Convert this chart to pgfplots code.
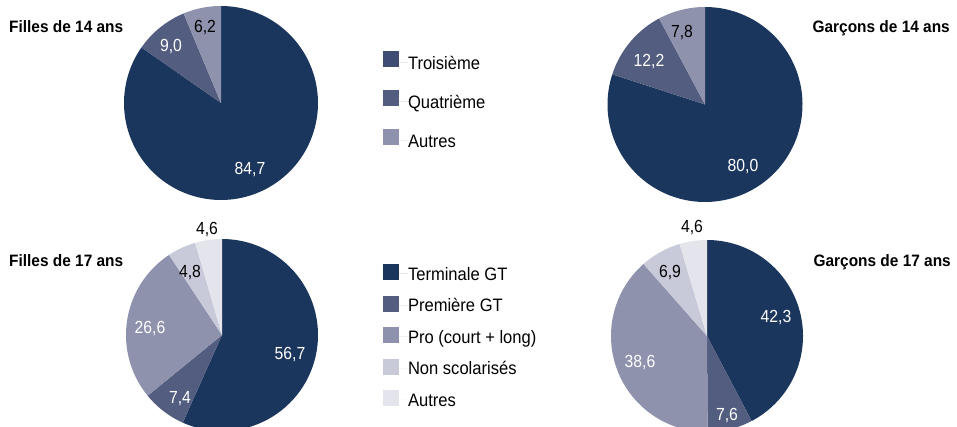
\documentclass[border=0pt]{standalone}
\usepackage{fontspec}
\setmainfont{Liberation Sans}
\newfontfamily\labfont{Liberation Sans}[FakeStretch=0.9]
\newfontfamily\legfont{Liberation Sans}[FakeStretch=0.92]
\newfontfamily\ttlfont{Liberation Sans}[FakeStretch=0.935]
\usepackage{pgfplots}
\pgfplotsset{compat=1.18}
\definecolor{c1}{HTML}{1B365D}
\definecolor{c2}{HTML}{535D80}
\definecolor{c3}{HTML}{8E92AD}
\definecolor{c4}{HTML}{C9CAD9}
\definecolor{c5}{HTML}{E4E5EC}
\definecolor{leg1}{HTML}{3F4C74}
% slice: cx, cy, r, start (%), value (%), colour
\newcommand{\slice}[6]{%
  \addplot[fill=#6, draw=none, forget plot, domain=#4*3.6:(#4+#5)*3.6, samples=120]
    ({#1+#3*sin(x)},{#2-#3*cos(x)}) -- (axis cs:#1,#2) -- cycle;}
\newcommand{\lab}[4]{\node[anchor=base, inner sep=0pt, text=#3, font=\labfont\fontsize{17.5}{20}\selectfont] at (axis cs:#1,#2) {#4};}
\pgfplotsset{pieaxis/.style={x=1pt, y=1pt, y dir=reverse, xmin=0, xmax=957, ymin=0, ymax=427,
  hide axis, scale only axis, clip=true, at={(0,0)}, anchor=south west,
  legend cell align=left,
  legend style={draw=none, fill=none, inner sep=0pt, outer sep=0pt, column sep=0pt,
    font=\legfont\fontsize{18}{21}\selectfont,
    nodes={inner sep=0pt, outer sep=0pt, text height=13pt, text depth=0pt}}}}
\begin{document}
\begin{tikzpicture}
% ---------- 14 ans ----------
\begin{axis}[pieaxis,
  legend style={at={(0.4002,0.8806)}, anchor=north west, row sep=20.5pt},
  legend image code/.code={\fill[#1] (0pt,-4pt) rectangle (16pt,12pt); \path (0pt,0pt) -- (25pt,0pt);}]
\addlegendimage{fill=leg1, draw=none}\addlegendentry{Troisième}
\addlegendimage{fill=c2, draw=none}\addlegendentry{Quatrième}
\addlegendimage{fill=c3, draw=none}\addlegendentry{Autres}
% Filles de 14 ans
\slice{221}{103}{97}{0}{84.7}{c1}
\slice{221}{103}{97}{84.7}{9.0}{c2}
\slice{221}{103}{97}{93.7}{6.3}{c3}
% Garcons de 14 ans
\slice{705}{104.5}{97.5}{0}{80.0}{c1}
\slice{705}{104.5}{97.5}{80.0}{12.2}{c2}
\slice{705}{104.5}{97.5}{92.2}{7.8}{c3}
\lab{250}{175}{white}{84,7}
\lab{171}{51.5}{white}{9,0}
\lab{205}{33}{black}{6,2}
\lab{743}{172}{white}{80,0}
\lab{649}{67}{white}{12,2}
\lab{682}{38}{black}{7,8}
\node[anchor=base west, inner sep=0pt, font=\ttlfont\bfseries\fontsize{16.5}{19}\selectfont] at (axis cs:9,33) {Filles de 14 ans};
\node[anchor=base east, inner sep=0pt, font=\ttlfont\bfseries\fontsize{16.5}{19}\selectfont] at (axis cs:950,33) {Garçons de 14 ans};
\end{axis}
% ---------- 17 ans ----------
\begin{axis}[pieaxis,
  legend style={at={(0.4002,0.3817)}, anchor=north west, row sep=15.5pt},
  legend image code/.code={\fill[#1] (0pt,-6.5pt) rectangle (16pt,9.5pt); \path (0pt,0pt) -- (25pt,0pt);}]
\addlegendimage{fill=c1, draw=none}\addlegendentry{Terminale GT}
\addlegendimage{fill=c2, draw=none}\addlegendentry{Première GT}
\addlegendimage{fill=c3, draw=none}\addlegendentry{Pro (court + long)}
\addlegendimage{fill=c4, draw=none}\addlegendentry{Non scolarisés}
\addlegendimage{fill=c5, draw=none}\addlegendentry{Autres}
% Filles de 17 ans
\slice{222}{335}{96}{0}{56.7}{c1}
\slice{222}{335}{96}{56.7}{7.4}{c2}
\slice{222}{335}{96}{64.1}{26.6}{c3}
\slice{222}{335}{96}{90.7}{4.8}{c4}
\slice{222}{335}{96}{95.5}{4.5}{c5}
% Garcons de 17 ans
\slice{707}{336}{96}{0}{42.3}{c1}
\slice{707}{336}{96}{42.3}{7.6}{c2}
\slice{707}{336}{96}{49.9}{38.6}{c3}
\slice{707}{336}{96}{88.5}{6.9}{c4}
\slice{707}{336}{96}{95.4}{4.6}{c5}
\lab{207}{235}{black}{4,6}
\lab{190}{278}{black}{4,8}
\lab{150}{333.5}{white}{26,6}
\lab{290}{359}{white}{56,7}
\lab{180}{403.5}{white}{7,4}
\lab{692}{233}{black}{4,6}
\lab{670}{277}{black}{6,9}
\lab{776}{322}{white}{42,3}
\lab{640}{367}{white}{38,6}
\lab{727}{420}{white}{7,6}
\node[anchor=base west, inner sep=0pt, font=\ttlfont\bfseries\fontsize{16.5}{19}\selectfont] at (axis cs:9,267) {Filles de 17 ans};
\node[anchor=base east, inner sep=0pt, font=\ttlfont\bfseries\fontsize{16.5}{19}\selectfont] at (axis cs:951,267) {Garçons de 17 ans};
\end{axis}
\pgfresetboundingbox
\path (0,0) rectangle (957pt,427pt);
\end{tikzpicture}
\end{document}
